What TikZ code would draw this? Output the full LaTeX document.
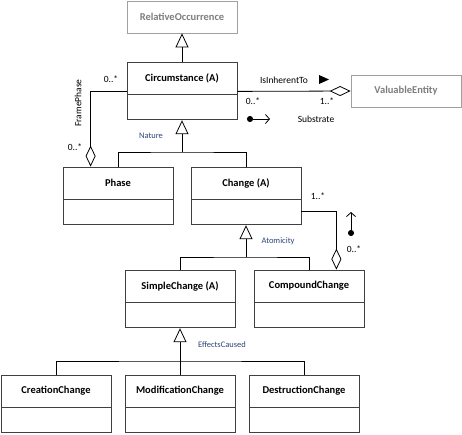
\documentclass[tikz,border=0pt]{standalone}
\usepackage{fontspec}
\setmainfont{Carlito}
\usetikzlibrary{arrows.meta}
\definecolor{boxline}{RGB}{64,64,64}
\definecolor{greyline}{RGB}{160,160,160}
\definecolor{greytext}{RGB}{125,125,125}
\definecolor{rolecol}{RGB}{45,70,120}
\tikzset{
  title/.style={draw=boxline, line width=0.8pt, minimum width=110pt, minimum height=32pt, inner sep=0pt, font=\fontsize{10.5}{12}\selectfont\bfseries},
  attrs/.style={draw=boxline, line width=0.8pt, minimum width=110pt, minimum height=25pt, inner sep=0pt},
  extbox/.style={draw=greyline, line width=0.8pt, minimum width=110pt, minimum height=32pt, inner sep=0pt, text=greytext, font=\fontsize{10.5}{12}\selectfont\bfseries},
  gen/.style={line width=1pt, -{Triangle[open, width=13pt, length=14pt, line width=0.8pt]}},
  branch/.style={line width=0.8pt},
  agg/.style={line width=0.8pt, -{Diamond[open, width=10pt, length=21pt, line width=0.8pt]}},
  mult/.style={font=\fontsize{9.5}{11}\selectfont, inner sep=0pt},
  role/.style={font=\fontsize{8.5}{10}\selectfont, text=rolecol, inner sep=0pt},
  navarrow/.style={line width=0.8pt, {Circle[length=6pt]}-{Straight Barb[length=4pt, width=9pt, line width=0.8pt]}}
}
\newcommand\umlbox[4]{%
  \node[title] (#1) at (#2+55, #3+16) {#4};
  \node[attrs, anchor=north] (#1A) at (#1.south) {};
}
\begin{document}
\begin{tikzpicture}[x=1pt, y=-1pt]
\useasboundingbox (0,0) rectangle (462,434);
% external classes
\node[extbox] (relocc) at (182,17) {RelativeOccurrence};
\node[extbox] (valent) at (406,91) {ValuableEntity};
% classes
\umlbox{circ}{127}{62}{Circumstance (A)}
\umlbox{phase}{63}{167}{Phase}
\umlbox{change}{191}{167}{Change (A)}
\umlbox{simple}{125}{270}{SimpleChange (A)}
\umlbox{compound}{254}{270}{CompoundChange}
\umlbox{creation}{1}{375}{CreationChange}
\umlbox{modif}{125}{375}{ModificationChange}
\umlbox{destr}{249}{375}{DestructionChange}
% generalizations
\draw[gen] (circ.north) -- (relocc.south);
\coordinate (j1) at (182,152);
\draw[gen] (j1) -- (circA.south);
\draw[branch] (phase.north) |- (j1) -| (change.north);
\coordinate (j2) at (246,257);
\draw[gen] (j2) -- (changeA.south);
\draw[branch] (simple.north) |- (j2) -| (compound.north);
\coordinate (j3) at (180,361);
\draw[gen] (j3) -- (simpleA.south);
\draw[branch] (creation.north) |- (j3) -| (destr.north);
\draw[branch] (modif.north) -- (j3);
% aggregations
\draw[agg] ([yshift=3pt]circ.south west) -| ([xshift=28pt]phase.north west);
\draw[agg] ([yshift=3pt]circ.south east) -- (valent.west);
\draw[agg] ([yshift=1pt]changeA.east) -| ([xshift=-28pt]compound.north east);
% labels
\node[mult] (m1) at (111,79) {0..*};
\node[mult] (m2) at (75,147) {0..*};
\node[mult, rotate=90] (fp) at (78,103) {FramePhase};
\node[role] (nat) at (151,136) {Nature};
\node[mult] (inh) at (284,80) {IsInherentTo};
\fill (319,75) -- (329,79.5) -- (319,84) -- cycle;
\node[mult] (m3) at (253,101) {0..*};
\node[mult] (m4) at (327,101) {1..*};
\node[mult] (sub) at (316,119) {Substrate};
\coordinate (s1) at (247,119);
\coordinate (s2) at (270,119);
\draw[navarrow] (s1) -- (s2);
\node[mult] (m5) at (318,196) {1..*};
\node[mult] (m6) at (354,249) {0..*};
\coordinate (s3) at (351,236);
\coordinate (s4) at (351,212);
\draw[navarrow] (s3) -- (s4);
\node[role] (ato) at (278,241) {Atomicity};
\node[role] (eff) at (222,345) {EffectsCaused};
\end{tikzpicture}
\end{document}
